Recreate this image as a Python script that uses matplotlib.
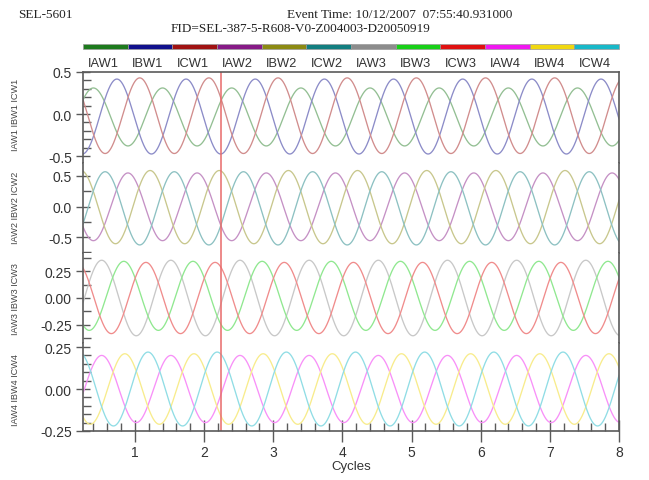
import numpy as np
import matplotlib
matplotlib.use('Agg')
import matplotlib.pyplot as plt
from matplotlib.ticker import MultipleLocator, FormatStrFormatter
from matplotlib.colors import to_rgb

# ---------------- data ----------------
channels = ['IAW1', 'IBW1', 'ICW1', 'IAW2', 'IBW2', 'ICW2',
            'IAW3', 'IBW3', 'ICW3', 'IAW4', 'IBW4', 'ICW4']
bar_colors = ['#1d7a1d', '#10108c', '#a01212', '#861a86', '#8c8a12', '#127e80',
              '#8c8c8c', '#18d018', '#e01010', '#f018f0', '#f0d810', '#18b8c8']
# sinusoid parameters (per channel)
amplitudes = [0.345, 0.446, 0.45, 0.555, 0.60, 0.60,
              0.35, 0.32, 0.33, 0.20, 0.21, 0.22]
offsets = [-0.035, -0.03, -0.02, -0.005, -0.01, -0.03,
           0.0, 0.02, 0.0, 0.0, 0.0, 0.0]
peak_cycles = [0.40, 0.74, 1.07, 0.90, 1.22, 0.57,
               0.52, 0.84, 1.16, 0.52, 0.855, 1.19]
x_start, x_end = 0.25, 8.0
event_cycle = 2.24
panel_ylims = [(-0.583, 0.5), (-0.762, 0.713), (-0.417, 0.417), (-0.25, 0.274)]
panel_major = [0.5, 0.5, 0.25, 0.25]
panel_minor = [0.1, 0.25, 0.125, 0.05]
panel_fmt = ['%.1f', '%.1f', '%.2f', '%.2f']
panel_titles = ['IAW1 IBW1 ICW1', 'IAW2 IBW2 ICW2', 'IAW3 IBW3 ICW3', 'IAW4 IBW4 ICW4']
xticks = [1, 2, 3, 4, 5, 6, 7, 8]

# ---------------- layout ----------------
W, H = 649, 481
fig = plt.figure(figsize=(W / 100, H / 100), dpi=100)
plt.rcParams['font.family'] = ['Liberation Sans', 'DejaVu Sans']

def fx(px):
    return px / W

def fy(py):
    return 1 - py / H

ax_left, ax_right = 83, 619
panel_px = [(73, 164), (164, 254), (254, 344), (344, 432)]
spine_col = '#5a5a5a'
text_col = '#333333'

def light(c, f=0.52):
    r, g, b = to_rgb(c)
    return (r + (1 - r) * f, g + (1 - g) * f, b + (1 - b) * f)

t = np.linspace(x_start, x_end, 3000)
axes = []
for p in range(4):
    top, bot = panel_px[p]
    ax = fig.add_axes([fx(ax_left), fy(bot), fx(ax_right - ax_left), (bot - top) / H])
    axes.append(ax)
    for k in range(3):
        i = p * 3 + k
        y = offsets[i] + amplitudes[i] * np.cos(2 * np.pi * (t - peak_cycles[i]))
        ax.plot(t, y, color=light(bar_colors[i]), lw=0.95)
    ax.axvline(event_cycle, color='#e86a6a', lw=1.1)
    ax.set_xlim(x_start, x_end)
    ax.set_ylim(*panel_ylims[p])
    ax.yaxis.set_major_locator(MultipleLocator(panel_major[p]))
    ax.yaxis.set_minor_locator(MultipleLocator(panel_minor[p]))
    ax.yaxis.set_major_formatter(FormatStrFormatter(panel_fmt[p]))
    ax.tick_params(axis='y', which='major', direction='inout', length=10, width=1,
                   color=spine_col, labelsize=10, labelcolor=text_col, pad=3)
    ax.tick_params(axis='y', which='minor', direction='in', length=6, width=1,
                   color=spine_col)
    for s in ['left', 'right', 'top', 'bottom']:
        ax.spines[s].set_color(spine_col)
        ax.spines[s].set_linewidth(1.2)
    ax.spines['top'].set_visible(p == 0)
    ax.spines['bottom'].set_visible(p == 3)
    if p < 3:
        ax.set_xticks([])
    else:
        ax.set_xticks(xticks)
        ax.xaxis.set_minor_locator(MultipleLocator(0.2))
        ax.tick_params(axis='x', which='major', direction='inout', length=16, width=1,
                       color=spine_col, labelsize=10, labelcolor=text_col, pad=2)
        ax.tick_params(axis='x', which='minor', direction='in', length=6, width=1,
                       color=spine_col)
        ax.set_xlabel('Cycles', fontsize=9.5, color=text_col, labelpad=1)
    y0 = top + (panel_ylims[p][1] - 0) / (panel_ylims[p][1] - panel_ylims[p][0]) * (bot - top)
    fig.text(fx(15), fy(y0), panel_titles[p], rotation=90, ha='center', va='center',
             fontsize=6.6, color='#444444')

# legend colour bar and labels
seg = (ax_right - ax_left) / len(channels)
for i, (name, col) in enumerate(zip(channels, bar_colors)):
    x0 = ax_left + i * seg
    fig.patches.append(plt.Rectangle((fx(x0), fy(50)), seg / W, 5 / H,
                                     transform=fig.transFigure, facecolor=col,
                                     edgecolor='#9a9a9a', lw=0.5))
    fig.text(fx(x0 + seg / 2 - 2), fy(64), name, ha='center', va='center',
             fontsize=9.3, color=text_col)

# header
fig.text(fx(18), fy(15), 'SEL-5601', ha='left', va='center', fontsize=9.5,
         family='Liberation Serif', color='#222222')
fig.text(fx(512), fy(15), 'Event Time: 10/12/2007  07:55:40.931000', ha='right',
         va='center', fontsize=9.5, family='Liberation Serif', color='#222222')
fig.text(fx(300), fy(29), 'FID=SEL-387-5-R608-V0-Z004003-D20050919', ha='center',
         va='center', fontsize=9.5, family='Liberation Serif', color='#222222')

fig.savefig('out.png', dpi=100)
